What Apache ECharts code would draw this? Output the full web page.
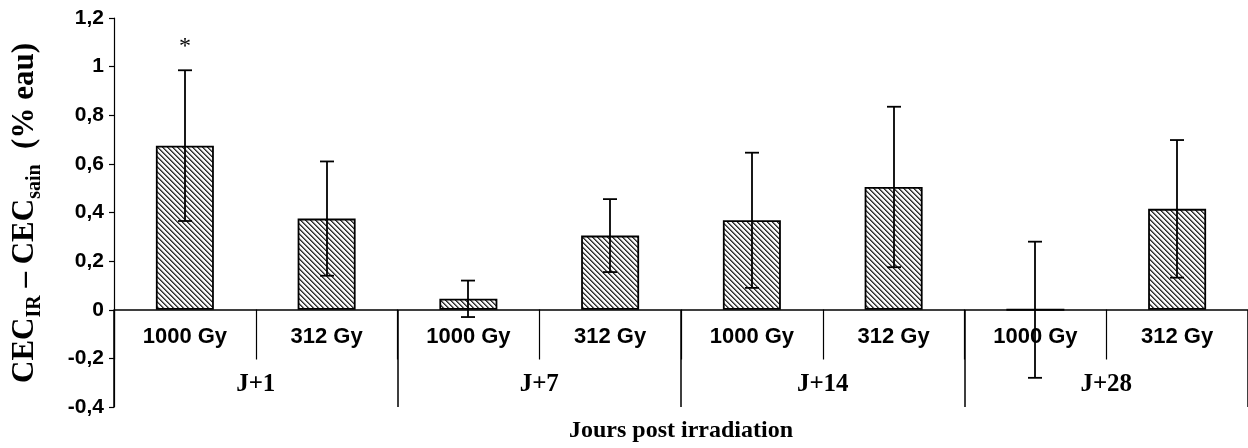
<!DOCTYPE html>
<html>
<head>
<meta charset="utf-8">
<script src="https://cdn.jsdelivr.net/npm/echarts@6/dist/echarts.min.js"></script>
<style>
  html, body { margin: 0; padding: 0; background: #fff; }
  #chart { width: 1248px; height: 448px; }
</style>
</head>
<body>
<div id="chart"></div>
<script>
// Dose sub-categories (one bar each) and their day groups
const doses = ['1000 Gy', '312 Gy', '1000 Gy', '312 Gy', '1000 Gy', '312 Gy', '1000 Gy', '312 Gy'];
const days = ['J+1', 'J+7', 'J+14', 'J+28'];
// Mean difference CEC_IR - CEC_sain (% eau) and its error half-width
const means = [0.675, 0.375, 0.045, 0.305, 0.368, 0.505, 0.0, 0.415];
const errors = [0.31, 0.235, 0.075, 0.15, 0.278, 0.33, 0.28, 0.283];
// Significance markers drawn above the error bars
const marks = ['*', '', '', '', '', '', '', ''];
// Value axis range
const yMin = -0.4, yMax = 1.2, yStep = 0.2;

// Plot area: the dose axis sits on the zero line, i.e. |yMin| of the range above the bottom edge
const gridTop = 18, gridHeight = 390;
const zeroOffset = gridHeight * (0 - yMin) / (yMax - yMin);

// Diagonal hatch fill tile
function hatchTile() {
  const size = 5;
  const c = document.createElement('canvas');
  c.width = size; c.height = size;
  const ctx = c.getContext('2d');
  const img = ctx.createImageData(size, size);
  const shades = [45, 110, 225, 255, 240];
  for (let y = 0; y < size; y++) {
    for (let x = 0; x < size; x++) {
      const k = (((x - y) % size) + size) % size;
      const v = shades[k];
      const o = (y * size + x) * 4;
      img.data[o] = v; img.data[o + 1] = v; img.data[o + 2] = v; img.data[o + 3] = 255;
    }
  }
  ctx.putImageData(img, 0, 0);
  return c;
}

const sans = '"Liberation Sans", Arial, sans-serif';
const serif = '"Liberation Serif", "Times New Roman", serif';

const errData = means.map((m, i) => [i, m - errors[i], m + errors[i]]);

const chart = echarts.init(document.getElementById('chart'), null, { renderer: 'canvas' });
chart.setOption({
  animation: false,
  backgroundColor: '#fff',
  grid: { left: 114, top: gridTop, width: 1140, height: gridHeight, containLabel: false },
  xAxis: [
    {
      type: 'category',
      data: doses,
      position: 'bottom',
      offset: -zeroOffset,
      axisLine: { onZero: false, lineStyle: { color: '#000', width: 1.5 } },
      axisTick: { show: true, interval: 0, length: 50, lineStyle: { color: '#000', width: 1.2 } },
      axisLabel: { interval: 0, margin: 16, color: '#000', fontFamily: sans, fontWeight: 'bold', fontSize: 22 },
      splitLine: { show: false }
    },
    {
      type: 'category',
      data: days,
      position: 'bottom',
      axisLine: { show: false, onZero: false },
      axisTick: { show: true, inside: true, interval: 0, length: 97, lineStyle: { color: '#000', width: 1.5 } },
      axisLabel: { inside: true, interval: 0, margin: 10, color: '#000', fontFamily: serif, fontWeight: 'bold', fontSize: 25 },
      name: 'Jours post irradiation',
      nameLocation: 'middle',
      nameGap: 12,
      nameTextStyle: { color: '#000', fontFamily: serif, fontWeight: 'bold', fontSize: 24, verticalAlign: 'top' },
      splitLine: { show: false }
    }
  ],
  yAxis: {
    type: 'value',
    min: yMin, max: yMax, interval: yStep,
    axisLine: { show: true, lineStyle: { color: '#000', width: 1.2 } },
    axisTick: { show: true, length: 5, lineStyle: { color: '#000', width: 1.2 } },
    axisLabel: {
      margin: 10, color: '#000', fontFamily: sans, fontWeight: 'bold', fontSize: 21,
      formatter: v => String(Number(v.toFixed(1))).replace('.', ',')
    },
    splitLine: { show: false }
  },
  graphic: [{
    type: 'text',
    x: 27, y: 213,
    rotation: Math.PI / 2,
    style: {
      text: '{b|CEC}{s|IR}{b| – CEC}{s|sain}{b|  (% eau)}',
      align: 'center',
      verticalAlign: 'middle',
      fill: '#000',
      rich: {
        b: { fontFamily: serif, fontWeight: 'bold', fontSize: 31, lineHeight: 36, verticalAlign: 'top' },
        s: { fontFamily: serif, fontWeight: 'bold', fontSize: 20, lineHeight: 20, padding: [16, 0, 0, 0], verticalAlign: 'top' }
      }
    }
  }],
  series: [
    {
      type: 'bar',
      xAxisIndex: 0,
      data: means,
      barWidth: 58,
      itemStyle: {
        color: { image: hatchTile(), repeat: 'repeat' },
        borderColor: '#000',
        borderWidth: 1.8
      },
      emphasis: { disabled: true }
    },
    {
      type: 'custom',
      xAxisIndex: 0,
      data: errData,
      encode: { x: 0, y: [1, 2] },
      z: 5,
      renderItem(params, api) {
        const i = api.value(0);
        const top = api.coord([i, api.value(2)]);
        const bot = api.coord([i, api.value(1)]);
        const x = Math.round(top[0]);
        const half = 7;
        const ls = { stroke: '#000', lineWidth: 1.8 };
        const children = [
          { type: 'line', shape: { x1: x, y1: top[1], x2: x, y2: bot[1] }, style: ls },
          { type: 'line', shape: { x1: x - half, y1: top[1], x2: x + half, y2: top[1] }, style: ls },
          { type: 'line', shape: { x1: x - half, y1: bot[1], x2: x + half, y2: bot[1] }, style: ls }
        ];
        const m = marks[params.dataIndex];
        if (m) {
          children.push({
            type: 'text',
            x: x, y: top[1] - 24,
            style: { text: m, fill: '#000', fontFamily: serif, fontSize: 24, align: 'center', verticalAlign: 'middle' }
          });
        }
        return { type: 'group', children };
      }
    }
  ]
});
</script>
</body>
</html>
